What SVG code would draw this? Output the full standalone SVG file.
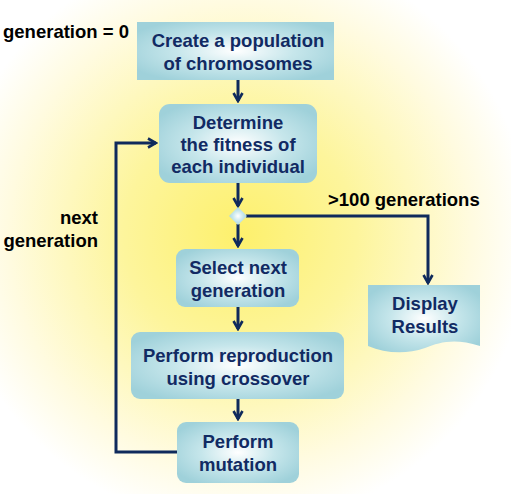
<svg xmlns="http://www.w3.org/2000/svg" width="511" height="494" viewBox="0 0 511 494">
<defs>
<radialGradient id="bg" cx="240" cy="235" r="290" gradientUnits="userSpaceOnUse">
<stop offset="0" stop-color="#fdf06c"/>
<stop offset="0.4" stop-color="#fdf59c"/>
<stop offset="0.8" stop-color="#fffbe0"/>
<stop offset="1" stop-color="#ffffff"/>
</radialGradient>
<radialGradient id="box" cx="0.5" cy="0.5" r="0.6">
<stop offset="0" stop-color="#ffffff"/>
<stop offset="0.5" stop-color="#c6e6eb"/>
<stop offset="1" stop-color="#9fd1da"/>
</radialGradient>
<marker id="arr" viewBox="0 0 12 12" refX="10" refY="6" markerWidth="12" markerHeight="12" orient="auto" markerUnits="userSpaceOnUse">
<path d="M2,1.5 L10,6 L2,10.5" fill="none" stroke="#0f2a5c" stroke-width="2.6"/>
</marker>
</defs>
<style>
.node{fill:url(#box);stroke:none}
.t{font-family:"Liberation Sans",Arial,sans-serif;font-weight:bold;font-size:18.5px;fill:#112a63;text-anchor:middle}
.lbl{font-family:"Liberation Sans",Arial,sans-serif;font-weight:bold;font-size:18.5px;fill:#000}
.c{fill:none;stroke:#0f2a5c;stroke-width:3}
.a{marker-end:url(#arr)}
</style>
<rect width="511" height="494" fill="url(#bg)"/>
<g id="connectors">
<path class="c a" d="M238,80 V101"/>
<path class="c a" d="M238,183 V206"/>
<path class="c a" d="M238,224 V246"/>
<path class="c a" d="M246,216 H428 V283"/>
<path class="c a" d="M238,307 V329"/>
<path class="c a" d="M238,399 V419"/>
<path class="c a" d="M177,452 H116 V143 H156"/>
</g>
<g id="n1">
<rect class="node" x="137" y="22" width="197" height="58"/>
<text class="t" x="238" y="47">Create a population</text>
<text class="t" x="238" y="70">of chromosomes</text>
</g>
<g id="n2">
<rect class="node" x="159" y="104" width="158" height="79" rx="11"/>
<text class="t" x="238" y="129">Determine</text>
<text class="t" x="238" y="151">the fitness of</text>
<text class="t" x="238" y="173">each individual</text>
</g>
<g id="decision">
<path d="M238,207 L247,216 L238,225 L229,216 Z" fill="url(#box)"/>
</g>
<g id="n3">
<rect class="node" x="176" y="249" width="123" height="58" rx="9"/>
<text class="t" x="238" y="274">Select next</text>
<text class="t" x="238" y="297">generation</text>
</g>
<g id="n4">
<rect class="node" x="131" y="332" width="213" height="67" rx="9"/>
<text class="t" x="238" y="362">Perform reproduction</text>
<text class="t" x="238" y="385">using crossover</text>
</g>
<g id="n5">
<rect class="node" x="177" y="422" width="122" height="61" rx="9"/>
<text class="t" x="238" y="448">Perform</text>
<text class="t" x="238" y="471">mutation</text>
</g>
<g id="n6">
<path class="node" d="M368,285 H480 V346 C455,338 440,342 425,348 C405,355 385,353 368,346 Z"/>
<text class="t" x="425" y="310">Display</text>
<text class="t" x="425" y="333">Results</text>
</g>
<g id="labels">
<text class="lbl" x="3" y="38">generation = 0</text>
<text class="lbl" x="98" y="224" text-anchor="end">next</text>
<text class="lbl" x="98" y="247" text-anchor="end">generation</text>
<text class="lbl" x="328" y="206">&gt;100 generations</text>
</g>
</svg>
